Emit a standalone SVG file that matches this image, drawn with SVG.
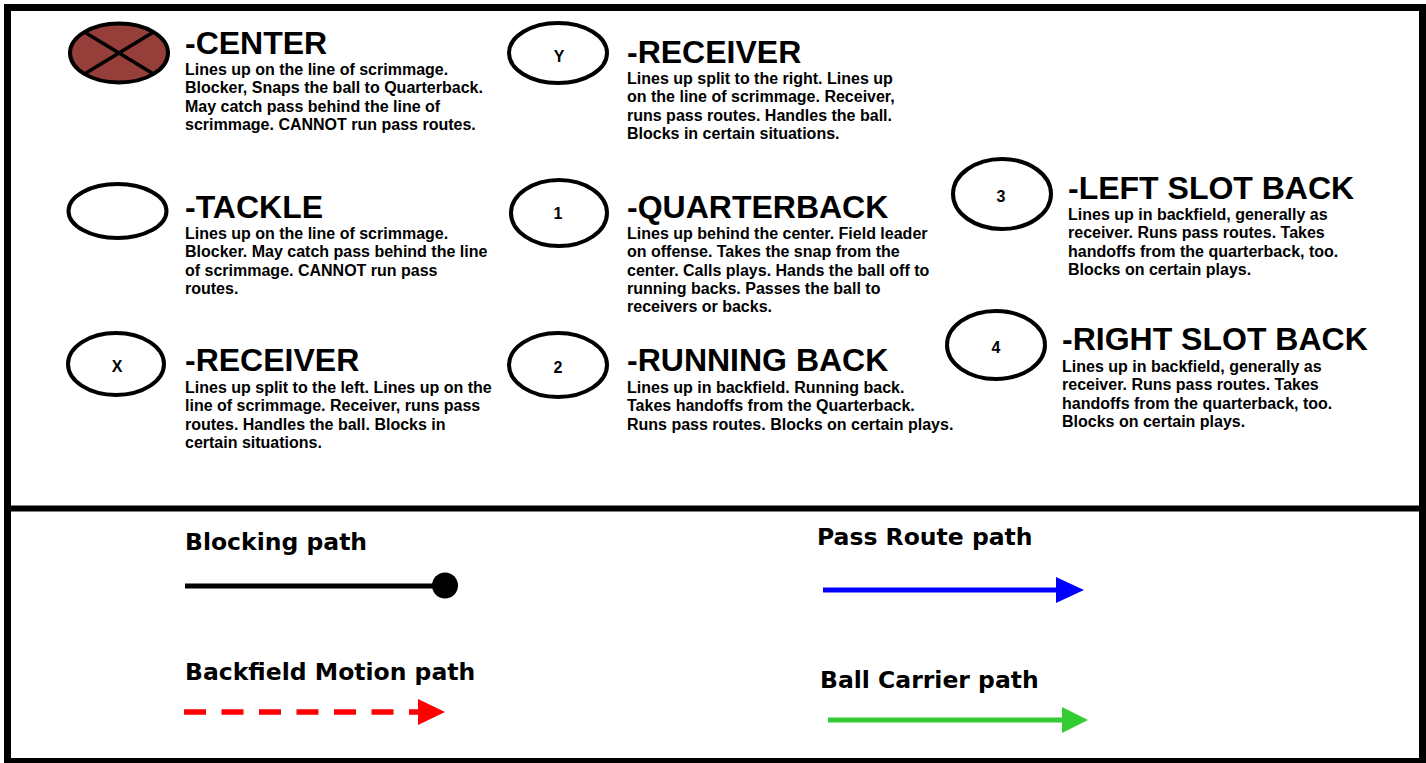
<svg xmlns="http://www.w3.org/2000/svg" width="1426" height="763" viewBox="0 0 1426 763">
<style>
.ell{fill:#fff;stroke:#000;stroke-width:4}
.lbl{font-family:"Liberation Sans",Arial,sans-serif;font-weight:bold;font-size:16px;text-anchor:middle;fill:#000}
.title{font-family:"Liberation Sans",Arial,sans-serif;font-weight:bold;font-size:32px;fill:#000}
.desc{font-family:"Liberation Sans",Arial,sans-serif;font-weight:bold;font-size:16px;fill:#000}
.leg{font-family:"DejaVu Sans",Verdana,sans-serif;font-weight:bold;font-size:23.5px;fill:#000}
</style>
<rect x="0" y="0" width="1426" height="763" fill="#fff"/>
<rect x="7.5" y="7.5" width="1415" height="754" fill="none" stroke="#000" stroke-width="7"/>
<line x1="4" y1="508.5" x2="1426" y2="508.5" stroke="#000" stroke-width="6"/>

<g id="center">
<ellipse cx="119" cy="53" rx="49" ry="29.5" fill="#963f3a" stroke="#000" stroke-width="4"/>
<line x1="84.4" y1="32.1" x2="153.6" y2="73.9" stroke="#000" stroke-width="3.5"/>
<line x1="153.6" y1="32.1" x2="84.4" y2="73.9" stroke="#000" stroke-width="3.5"/>
<text class="title" x="185" y="54">-CENTER</text>
<text class="desc" x="185" y="75"><tspan x="185">Lines up on the line of scrimmage.</tspan><tspan x="185" dy="18.3">Blocker, Snaps the ball to Quarterback.</tspan><tspan x="185" dy="18.3">May catch pass behind the line of</tspan><tspan x="185" dy="18.3">scrimmage. CANNOT run pass routes.</tspan></text>
</g>

<g id="receiver-y">
<ellipse class="ell" cx="558" cy="53" rx="49" ry="30"/>
<text class="lbl" x="559" y="62">Y</text>
<text class="title" x="627" y="63">-RECEIVER</text>
<text class="desc" x="627" y="84"><tspan x="627">Lines up split to the right. Lines up</tspan><tspan x="627" dy="18.3">on the line of scrimmage. Receiver,</tspan><tspan x="627" dy="18.3">runs pass routes. Handles the ball.</tspan><tspan x="627" dy="18.3">Blocks in certain situations.</tspan></text>
</g>

<g id="tackle">
<ellipse class="ell" cx="117.5" cy="211" rx="49" ry="27"/>
<text class="title" x="185" y="218">-TACKLE</text>
<text class="desc" x="185" y="239"><tspan x="185">Lines up on the line of scrimmage.</tspan><tspan x="185" dy="18.3">Blocker. May catch pass behind the line</tspan><tspan x="185" dy="18.3">of scrimmage. CANNOT run pass</tspan><tspan x="185" dy="18.3">routes.</tspan></text>
</g>

<g id="quarterback">
<ellipse class="ell" cx="559" cy="213" rx="48" ry="33"/>
<text class="lbl" x="558" y="219">1</text>
<text class="title" x="627" y="218">-QUARTERBACK</text>
<text class="desc" x="627" y="239"><tspan x="627">Lines up behind the center. Field leader</tspan><tspan x="627" dy="18.3">on offense. Takes the snap from the</tspan><tspan x="627" dy="18.3">center. Calls plays. Hands the ball off to</tspan><tspan x="627" dy="18.3">running backs. Passes the ball to</tspan><tspan x="627" dy="18.3">receivers or backs.</tspan></text>
</g>

<g id="left-slot-back">
<ellipse class="ell" cx="1002" cy="194" rx="49" ry="35"/>
<text class="lbl" x="1001" y="202">3</text>
<text class="title" x="1068" y="199">-LEFT SLOT BACK</text>
<text class="desc" x="1068" y="220"><tspan x="1068">Lines up in backfield, generally as</tspan><tspan x="1068" dy="18.3">receiver. Runs pass routes. Takes</tspan><tspan x="1068" dy="18.3">handoffs from the quarterback, too.</tspan><tspan x="1068" dy="18.3">Blocks on certain plays.</tspan></text>
</g>

<g id="right-slot-back">
<ellipse class="ell" cx="996" cy="345" rx="49" ry="34"/>
<text class="lbl" x="996" y="353">4</text>
<text class="title" x="1062" y="350">-RIGHT SLOT BACK</text>
<text class="desc" x="1062" y="372"><tspan x="1062">Lines up in backfield, generally as</tspan><tspan x="1062" dy="18.3">receiver. Runs pass routes. Takes</tspan><tspan x="1062" dy="18.3">handoffs from the quarterback, too.</tspan><tspan x="1062" dy="18.3">Blocks on certain plays.</tspan></text>
</g>

<g id="receiver-x">
<ellipse class="ell" cx="116" cy="364" rx="48" ry="31"/>
<text class="lbl" x="117" y="372">X</text>
<text class="title" x="185" y="371">-RECEIVER</text>
<text class="desc" x="185" y="393"><tspan x="185">Lines up split to the left. Lines up on the</tspan><tspan x="185" dy="18.3">line of scrimmage. Receiver, runs pass</tspan><tspan x="185" dy="18.3">routes. Handles the ball. Blocks in</tspan><tspan x="185" dy="18.3">certain situations.</tspan></text>
</g>

<g id="running-back">
<ellipse class="ell" cx="558" cy="365" rx="49" ry="32"/>
<text class="lbl" x="558" y="373">2</text>
<text class="title" x="627" y="371">-RUNNING BACK</text>
<text class="desc" x="627" y="393"><tspan x="627">Lines up in backfield. Running back.</tspan><tspan x="627" dy="18.3">Takes handoffs from the Quarterback.</tspan><tspan x="627" dy="18.3">Runs pass routes. Blocks on certain plays.</tspan></text>
</g>

<g id="legend-labels">
<text class="leg" x="185" y="550">Blocking path</text>
<text class="leg" x="185" y="680">Backfield Motion path</text>
<text class="leg" x="817" y="545">Pass Route path</text>
<text class="leg" x="820" y="688">Ball Carrier path</text>
</g>

<g id="connectors">
<g id="blocking-path">
<line x1="185" y1="586" x2="440" y2="586" stroke="#000" stroke-width="5"/>
<circle cx="445" cy="585.5" r="13" fill="#000"/>
</g>
<g id="motion-path">
<line x1="184" y1="712" x2="419" y2="712" stroke="#ff0000" stroke-width="5.5" stroke-dasharray="22,15.5"/>
<path d="M418,699 L445,712 L418,725 Z" fill="#ff0000"/>
</g>
<g id="pass-route-path">
<line x1="823" y1="590" x2="1058" y2="590" stroke="#0000ff" stroke-width="5"/>
<path d="M1056,577 L1084,590 L1056,603 Z" fill="#0000ff"/>
</g>
<g id="ball-carrier-path">
<line x1="828" y1="720" x2="1064" y2="720" stroke="#33cc33" stroke-width="5"/>
<path d="M1062,707 L1088,720 L1062,733 Z" fill="#33cc33"/>
</g>
</g>
</svg>
